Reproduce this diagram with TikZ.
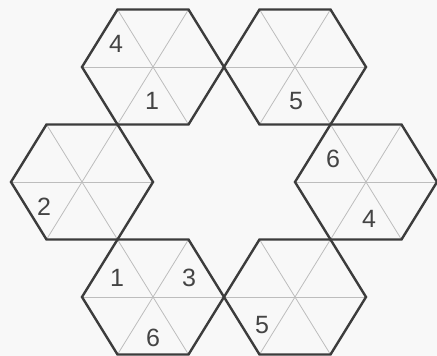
\documentclass[tikz,border=0pt]{standalone}
\usepackage{fontspec}
\setmainfont{Liberation Sans}
\definecolor{edge}{HTML}{3C3C3C}
\definecolor{inner}{HTML}{BDBDBD}
\definecolor{digit}{HTML}{444444}
\definecolor{paper}{HTML}{F8F8F8}
\tikzset{
  hexedge/.style={draw=edge, line width=2.4pt, line join=miter},
  hexinner/.style={draw=inner, line width=0.8pt},
  numlabel/.style={text=digit, font=\fontsize{25}{25}\selectfont, inner sep=0pt}
}
\newcommand\hexcell[3]{%
  \coordinate (#1) at (#2,#3);
  \begin{scope}[shift={(#2,#3)}]
    \draw[hexinner] (-71,0) -- (71,0);
    \draw[hexinner] (-35.5,-57.5) -- (35.5,57.5);
    \draw[hexinner] (35.5,-57.5) -- (-35.5,57.5);
  \end{scope}
}
\newcommand\hexrim[1]{%
  \draw[hexedge] ($(#1)+(-71,0)$) -- ($(#1)+(-35.5,-57.5)$) -- ($(#1)+(35.5,-57.5)$)
    -- ($(#1)+(71,0)$) -- ($(#1)+(35.5,57.5)$) -- ($(#1)+(-35.5,57.5)$) -- cycle;
}
\usetikzlibrary{calc}
\begin{document}
\begin{tikzpicture}[x=1pt,y=-1pt]
\fill[paper] (0,0) rectangle (437,356);
\useasboundingbox (0,0) rectangle (437,356);
\hexcell{hA}{153}{67}
\hexcell{hB}{295}{67}
\hexcell{hC}{82}{182}
\hexcell{hD}{366}{182}
\hexcell{hE}{153}{297}
\hexcell{hF}{295}{297}
\hexrim{hA}
\hexrim{hB}
\hexrim{hC}
\hexrim{hD}
\hexrim{hE}
\hexrim{hF}
\node[numlabel] (a4) at (116,44) {4};
\node[numlabel] (a1) at (152,101) {1};
\node[numlabel] (b5) at (296,101) {5};
\node[numlabel] (c2) at (44,207) {2};
\node[numlabel] (d6) at (333,159) {6};
\node[numlabel] (d4) at (369,219) {4};
\node[numlabel] (e1) at (117,278) {1};
\node[numlabel] (e3) at (189,278) {3};
\node[numlabel] (e6) at (153,338) {6};
\node[numlabel] (f5) at (262,325) {5};
\end{tikzpicture}
\end{document}
